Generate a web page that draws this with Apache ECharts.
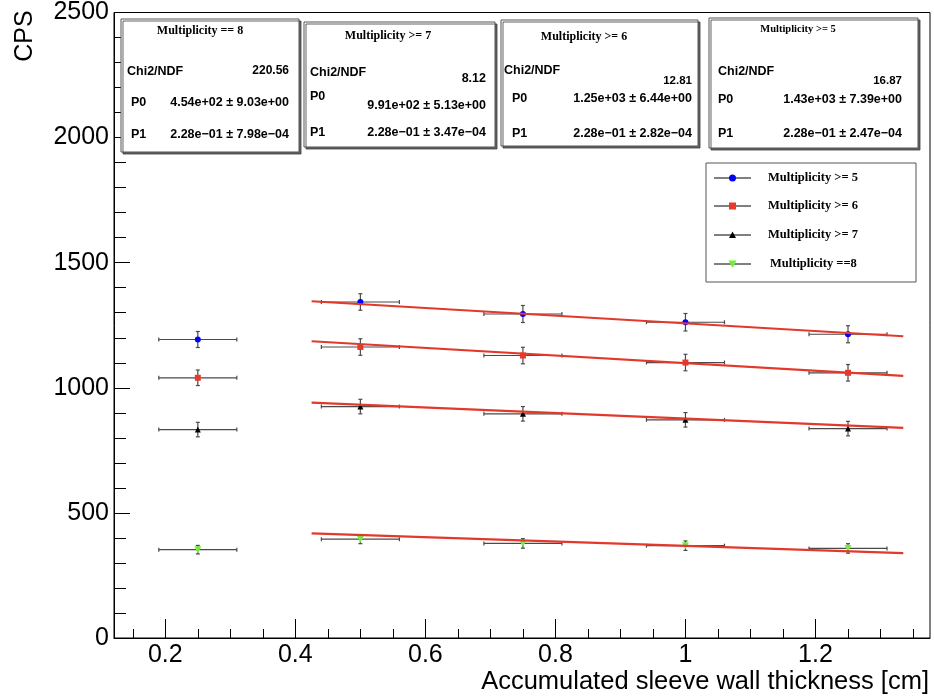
<!DOCTYPE html>
<html>
<head>
<meta charset="utf-8">
<script src="https://cdn.jsdelivr.net/npm/echarts@6/dist/echarts.min.js"></script>
<style>
html,body{margin:0;padding:0;background:#fff;}
#chart{width:934px;height:698px;}
</style>
</head>
<body>
<div id="chart"></div>
<script>
// ---- data ----
const seriesNames = ['Multiplicity >= 5', 'Multiplicity >= 6', 'Multiplicity >= 7', 'Multiplicity ==8'];
const xVals = [0.25, 0.5, 0.75, 1.0, 1.25];
const xErr = [0.06, 0.06, 0.06, 0.06, 0.06];
const m5 = [1193, 1343, 1295, 1262, 1214];
const err5 = [32, 33, 34, 35, 34];
const m6 = [1040, 1163, 1129, 1101, 1060];
const err6 = [31, 33, 33, 33, 33];
const m7 = [833, 925, 896, 872, 837];
const err7 = [29, 29, 29, 29, 29];
const m8 = [353, 395, 378, 369, 358];
const err8 = [17, 18, 19, 19, 19];
// fitted lines (end points)
const fitX = [0.425, 1.335];
const fit5 = [1346, 1206];
const fit6 = [1186, 1048];
const fit7 = [941, 840];
const fit8 = [418, 339];
// tick labels
const xMajorTicks = [0.2, 0.4, 0.6, 0.8, 1.0, 1.2];
const xMinorTicks = [0.15, 0.25, 0.3, 0.35, 0.45, 0.5, 0.55, 0.65, 0.7, 0.75, 0.85, 0.9, 0.95, 1.05, 1.1, 1.15, 1.25, 1.3, 1.35];
// fit statistics boxes
const boxTitles = ['Multiplicity == 8', 'Multiplicity >= 7', 'Multiplicity >= 6', 'Multiplicity >= 5'];
const boxChi2 = ['220.56', '8.12', '12.81', '16.87'];
const boxP0 = ['4.54e+02 \u00b1 9.03e+00', '9.91e+02 \u00b1 5.13e+00', '1.25e+03 \u00b1 6.44e+00', '1.43e+03 \u00b1 7.39e+00'];
const boxP1 = ['2.28e\u221201 \u00b1 7.98e\u221204', '2.28e\u221201 \u00b1 3.47e\u221204', '2.28e\u221201 \u00b1 2.82e\u221204', '2.28e\u221201 \u00b1 2.47e\u221204'];

// ---- styles ----
const colors = ['#0000ff', '#e8392b', '#000000', '#70f03a'];
const fitColor = '#e3392b';
const SANS = '"Liberation Sans", Arial, Helvetica, sans-serif';
const SERIF = '"Liberation Serif", "Times New Roman", serif';

const chart = echarts.init(document.getElementById('chart'));

function errRender(params, api) {
  const x = api.value(0), y = api.value(1), ex = api.value(2), ey = api.value(3);
  const l = api.coord([x - ex, y]);
  const r = api.coord([x + ex, y]);
  const t = api.coord([x, y + ey]);
  const b = api.coord([x, y - ey]);
  const cap = 2;
  const st = {stroke: '#4a4a4a', lineWidth: 1.2};
  const ln = (x1, y1, x2, y2) => ({type: 'line', shape: {x1, y1, x2, y2}, style: st});
  return {type: 'group', children: [
    ln(l[0], l[1], r[0], r[1]),
    ln(l[0], l[1] - cap, l[0], l[1] + cap),
    ln(r[0], r[1] - cap, r[0], r[1] + cap),
    ln(t[0], t[1], b[0], b[1]),
    ln(t[0] - cap, t[1], t[0] + cap, t[1]),
    ln(b[0] - cap, b[1], b[0] + cap, b[1])
  ]};
}

const allVals = [m5, m6, m7, m8];
const allErrs = [err5, err6, err7, err8];
const allFits = [fit5, fit6, fit7, fit8];
const symbols = ['circle', 'rect', 'triangle', 'triangle'];
const symSizes = [6, 6, 6, 7];
const symRot = [0, 0, 0, 180];

const series = [];
for (let k = 0; k < 4; k++) {
  series.push({
    type: 'custom', name: seriesNames[k] + ' err', renderItem: errRender,
    xAxisIndex: 0, yAxisIndex: 0, z: 2, silent: true,
    encode: {x: 0, y: 1},
    data: xVals.map((x, i) => [x, allVals[k][i], xErr[i], allErrs[k][i]])
  });
  series.push({
    type: 'scatter', name: seriesNames[k], xAxisIndex: 0, yAxisIndex: 0, z: 3,
    symbol: symbols[k], symbolSize: symSizes[k], symbolRotate: symRot[k],
    itemStyle: {color: colors[k], opacity: 1},
    data: xVals.map((x, i) => [x, allVals[k][i]])
  });
  series.push({
    type: 'line', name: seriesNames[k] + ' fit', xAxisIndex: 0, yAxisIndex: 0, z: 4,
    symbol: 'none', lineStyle: {color: fitColor, width: 2.2},
    data: fitX.map((x, i) => [x, allFits[k][i]])
  });
}

// ---- graphic: stat boxes, legend, titles ----
const graphics = [];
const boxes = [
  {x: 121, y: 19, w: 178, h: 133, tx: 200, ty: 31, tfs: 12, cl: 127, cy: 72, cvx: 289, cvy: 71, cfs: 12, pl: 131, p0y: 103, p0vy: 103, p1y: 135, vx: 289},
  {x: 304, y: 22, w: 191, h: 125, tx: 388, ty: 36, tfs: 12, cl: 310, cy: 73, cvx: 486, cvy: 79, cfs: 12.5, pl: 310, p0y: 97, p0vy: 106, p1y: 133, vx: 486},
  {x: 501, y: 20, w: 197, h: 126, tx: 584, ty: 37, tfs: 12, cl: 504, cy: 71, cvx: 692, cvy: 81, cfs: 11.5, pl: 512, p0y: 99, p0vy: 99, p1y: 134, vx: 692},
  {x: 709, y: 18, w: 209, h: 130, tx: 798, ty: 29, tfs: 10.5, cl: 718, cy: 72, cvx: 902, cvy: 81, cfs: 11.5, pl: 718, p0y: 100, p0vy: 100, p1y: 134, vx: 902}
];
boxes.forEach((b, i) => {
  graphics.push({type: 'rect', shape: {x: b.x, y: b.y, width: b.w, height: b.h}, z: 100,
    style: {fill: '#fff', stroke: '#555', lineWidth: 1, shadowColor: 'rgba(60,60,60,0.8)', shadowOffsetX: 2, shadowOffsetY: 2, shadowBlur: 0}});
  const T = (txt, x, y, align, fs, font, weight) => graphics.push({type: 'text', x, y, z: 101,
    style: {text: txt, font: (weight || 'normal') + ' ' + fs + 'px ' + font, fill: '#000', align, verticalAlign: 'middle'}});
  T(boxTitles[i], b.tx, b.ty, 'center', b.tfs, SERIF, 'bold');
  T('Chi2/NDF', b.cl, b.cy, 'left', 12.5, SANS, 'bold');
  T(boxChi2[i], b.cvx, b.cvy, 'right', b.cfs, SANS, 'bold');
  T('P0', b.pl, b.p0y, 'left', 12.5, SANS, 'bold');
  T(boxP0[i], b.vx, b.p0vy, 'right', 12.5, SANS, 'bold');
  T('P1', b.pl, b.p1y, 'left', 12.5, SANS, 'bold');
  T(boxP1[i], b.vx, b.p1y, 'right', 12.5, SANS, 'bold');
});

// legend
graphics.push({type: 'rect', shape: {x: 706, y: 163, width: 210, height: 119}, z: 100,
  style: {fill: '#fff', stroke: '#555', lineWidth: 1}});
const legY = [178, 206, 235, 264];
const legX = [768, 768, 768, 770];
const legSym = [
  {type: 'circle', shape: {cx: 0, cy: 0, r: 3.5}},
  {type: 'rect', shape: {x: -3.5, y: -3.5, width: 7, height: 7}},
  {type: 'polygon', shape: {points: [[0, -3.5], [3.5, 3], [-3.5, 3]]}},
  {type: 'polygon', shape: {points: [[-4, -3.5], [4, -3.5], [0, 4]]}}
];
for (let k = 0; k < 4; k++) {
  graphics.push({type: 'line', shape: {x1: 714, y1: legY[k], x2: 751, y2: legY[k]}, z: 101, style: {stroke: '#000', lineWidth: 1}});
  const s = Object.assign({}, legSym[k], {x: 732.5, y: legY[k], z: 102, style: {fill: colors[k]}});
  graphics.push(s);
  graphics.push({type: 'text', x: legX[k], y: legY[k], z: 101,
    style: {text: seriesNames[k], font: 'bold 12.5px ' + SERIF, fill: '#000', align: 'left', verticalAlign: 'middle'}});
}
// axis titles
graphics.push({type: 'text', x: 25, y: 36, rotation: Math.PI / 2, z: 101,
  style: {text: 'CPS', font: '25px ' + SANS, fill: '#000', align: 'center', verticalAlign: 'middle'}});
graphics.push({type: 'text', x: 929, y: 682, z: 101,
  style: {text: 'Accumulated sleeve wall thickness [cm]', font: '25.5px ' + SANS, fill: '#000', align: 'right', verticalAlign: 'middle'}});

const xMin = 0.1211, xMax = 1.3761;
const fmt = v => String(Number(v.toFixed(2)));

chart.setOption({
  animation: false,
  backgroundColor: '#fff',
  grid: {left: 114, right: 4, top: 12, bottom: 60, show: true, borderColor: '#000', borderWidth: 1, backgroundColor: 'transparent'},
  xAxis: [
    {type: 'value', min: xMin, max: xMax, position: 'bottom',
      axisLine: {show: true, lineStyle: {color: '#000', width: 1}},
      axisTick: {show: true, inside: true, length: 19, customValues: xMajorTicks, lineStyle: {color: '#000'}},
      axisLabel: {show: true, customValues: xMajorTicks, formatter: fmt, fontSize: 25, fontFamily: SANS, color: '#000', margin: 5},
      splitLine: {show: false}},
    {type: 'value', min: xMin, max: xMax, position: 'bottom',
      axisLine: {show: false},
      axisTick: {show: true, inside: true, length: 9, customValues: xMinorTicks, lineStyle: {color: '#000'}},
      axisLabel: {show: false},
      splitLine: {show: false}}
  ],
  yAxis: [{type: 'value', min: 0, max: 2500, interval: 500,
    axisLine: {show: true, lineStyle: {color: '#000', width: 1}},
    axisTick: {show: true, inside: true, length: 16, lineStyle: {color: '#000'}},
    minorTick: {show: true, splitNumber: 5, length: 12, lineStyle: {color: '#000'}},
    axisLabel: {fontSize: 25, fontFamily: SANS, color: '#000', margin: 5, formatter: v => String(v)},
    splitLine: {show: false}}],
  graphic: graphics,
  series: series
});
</script>
</body>
</html>
